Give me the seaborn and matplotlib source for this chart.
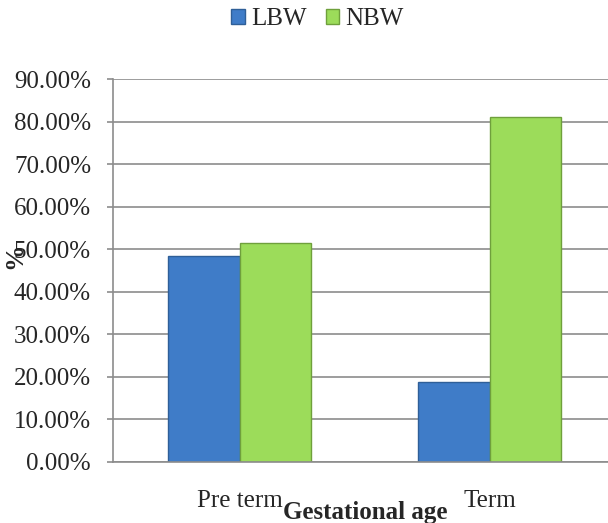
import matplotlib
matplotlib.use("Agg")
import matplotlib.pyplot as plt
import seaborn as sns
import pandas as pd
from matplotlib.patches import Patch
from matplotlib.ticker import FuncFormatter

categories = ["Pre term", "Term"]
series = ["LBW", "NBW"]
lbw = [48.5, 18.9]
nbw = [51.5, 81.1]
colors = {"LBW": "#3F7CC8", "NBW": "#9CDC5A"}
edges = {"LBW": "#2F5F98", "NBW": "#6FA03C"}

df = pd.DataFrame({
    "cat": categories * 2,
    "series": ["LBW"] * 2 + ["NBW"] * 2,
    "val": lbw + nbw,
})

sns.set_theme(style="white")
plt.rcParams['font.family'] = ['Liberation Serif', 'DejaVu Serif']

fig = plt.figure(figsize=(6.08, 5.23), dpi=100)
ax = fig.add_axes([113/608, 1-462/523, 495/608, 383/523])

sns.barplot(data=df, x="cat", y="val", hue="series", palette=colors,
            width=0.57, dodge=True, ax=ax, legend=False, saturation=1)
for i, p in enumerate(ax.patches[:4]):
    s = series[i // 2]
    p.set_edgecolor(edges[s])
    p.set_linewidth(1.0)

ax.set_ylim(0, 90)
ax.set_xlim(-0.506, 1.474)
ax.set_yticks(range(0, 91, 10))
ax.yaxis.set_major_formatter(FuncFormatter(lambda v, _: f"{v:.2f}%"))
ax.yaxis.grid(True, color="#8c8c8c", linewidth=1.2)
ax.set_axisbelow(True)
for side in ["top", "right"]:
    ax.spines[side].set_visible(False)
for side in ["left", "bottom"]:
    ax.spines[side].set_color("#8c8c8c")
    ax.spines[side].set_linewidth(1.2)
ax.tick_params(axis="y", which="both", left=True, length=4.3, width=1.2,
               color="#8c8c8c", labelsize=18, pad=11.5)
ax.tick_params(axis="x", bottom=False, labelsize=18, pad=14)
ax.set_xlabel("Gestational age", fontsize=18, fontweight="bold")
ax.xaxis.set_label_coords((365 - 113) / 495, (462 - 512) / 383)
ax.xaxis.label.set_va("center")
ax.set_ylabel("%", fontsize=19, fontweight="bold")
ax.yaxis.set_label_coords((15 - 113) / 495, (462 - 256) / 383)
ax.yaxis.label.set_va("center")

handles = [Patch(facecolor=colors[s], edgecolor=edges[s], label=s) for s in series]
fig.legend(handles=handles, loc="center", bbox_to_anchor=(317.5/608, 1-19/523),
           ncol=2, frameon=False, fontsize=18, handlelength=0.55,
           handleheight=0.55, handletextpad=0.25, columnspacing=0.76)

fig.savefig("out.png", dpi=100)
